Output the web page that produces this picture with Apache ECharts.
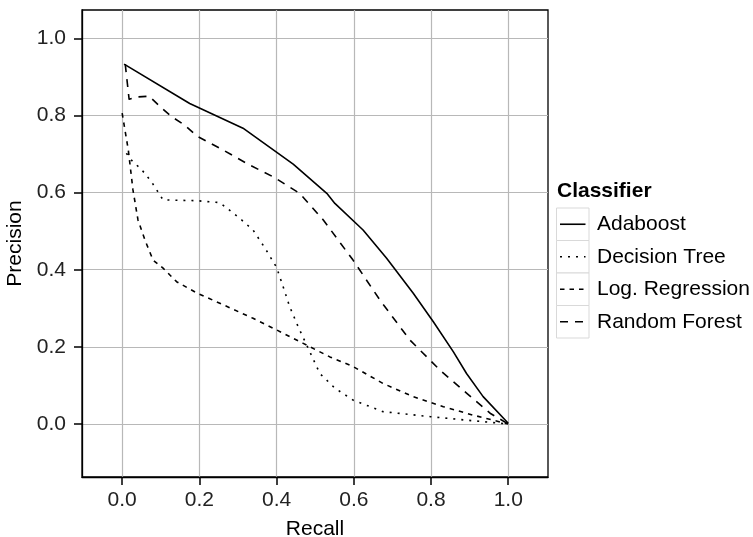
<!DOCTYPE html>
<html lang="en">
<head>
    <meta charset="UTF-8">
    <title>Precision-Recall</title>
    <style>
        html, body { margin: 0; padding: 0; background: #fff; }
        #main { width: 753px; height: 537px; }
    </style>
</head>
<body>
    <div id="main"></div>
</body>
<script type="text/javascript" src="https://cdn.jsdelivr.net/npm/echarts@6/dist/echarts.min.js"></script>
<script type="text/javascript">
    // values
    var classifiers = ['Adaboost', 'Decision Tree', 'Log. Regression', 'Random Forest'];
    var xTicks = [0, 0.2, 0.4, 0.6, 0.8, 1.0];
    var yTicks = [0, 0.2, 0.4, 0.6, 0.8, 1.0];

    var adaRecall    = [0.005, 0.175, 0.313, 0.443, 0.53, 0.551, 0.624, 0.685, 0.754, 0.806, 0.858, 0.892, 0.935, 1.0];
    var adaPrecision = [0.933, 0.831, 0.767, 0.674, 0.598, 0.572, 0.503, 0.43, 0.339, 0.265, 0.187, 0.131, 0.071, 0.002];

    var treeRecall    = [0.011, 0.024, 0.05, 0.076, 0.106, 0.193, 0.253, 0.305, 0.339, 0.37, 0.4, 0.417, 0.434, 0.456, 0.482, 0.512, 0.551, 0.598, 0.676, 0.799, 0.892, 1.0];
    var treePrecision = [0.702, 0.684, 0.66, 0.628, 0.581, 0.579, 0.574, 0.533, 0.503, 0.456, 0.406, 0.356, 0.304, 0.252, 0.196, 0.131, 0.093, 0.062, 0.032, 0.019, 0.01, 0.0];

    var logRecall    = [0.0, 0.016, 0.028, 0.041, 0.059, 0.08, 0.106, 0.141, 0.193, 0.262, 0.339, 0.4, 0.469, 0.538, 0.598, 0.676, 0.754, 0.832, 0.909, 1.0];
    var logPrecision = [0.806, 0.71, 0.607, 0.529, 0.477, 0.425, 0.404, 0.369, 0.34, 0.309, 0.274, 0.244, 0.209, 0.174, 0.149, 0.105, 0.071, 0.045, 0.023, 0.0];

    var rfRecall    = [0.008, 0.018, 0.04, 0.07, 0.098, 0.128, 0.162, 0.193, 0.262, 0.331, 0.391, 0.46, 0.521, 0.598, 0.668, 0.745, 0.823, 0.892, 0.953, 1.0];
    var rfPrecision = [0.933, 0.842, 0.848, 0.85, 0.823, 0.797, 0.775, 0.747, 0.71, 0.671, 0.641, 0.598, 0.529, 0.425, 0.321, 0.218, 0.14, 0.08, 0.028, 0.0];

    var dashes = ['solid', [2, 6], [4.5, 5], [8, 7]];

    function pairs(xs, ys) {
        var out = [];
        for (var i = 0; i < xs.length; i++) out.push([xs[i], ys[i]]);
        return out;
    }

    var seriesData = [
        pairs(adaRecall, adaPrecision),
        pairs(treeRecall, treePrecision),
        pairs(logRecall, logPrecision),
        pairs(rfRecall, rfPrecision)
    ];

    var font = "'Liberation Sans', Arial, Helvetica, sans-serif";
    var myChart = echarts.init(document.getElementById('main'), null, {renderer: 'canvas'});

    var series = [];
    for (var i = 0; i < classifiers.length; i++) {
        series.push({
            name: classifiers[i],
            type: 'line',
            symbol: 'none',
            silent: true,
            data: seriesData[i],
            lineStyle: {color: '#000', width: 1.6, type: dashes[i], cap: 'butt', join: 'round'},
            itemStyle: {color: '#000'}
        });
    }

    // legend keys: grey box, a short line in the series' dash, and the name
    var keyLeft = 556.5, keyTop = 208, keySize = 32.5;
    var legendParts = [];
    for (var i = 0; i < classifiers.length; i++) {
        var y0 = keyTop + i * keySize;
        legendParts.push({
            type: 'rect', silent: true,
            shape: {x: keyLeft, y: y0, width: keySize, height: keySize},
            style: {fill: '#fff', stroke: '#d9d9d9', lineWidth: 1}
        });
        legendParts.push({
            type: 'line', silent: true,
            shape: {x1: keyLeft + 3.5, y1: y0 + keySize / 2, x2: keyLeft + keySize - 3.5, y2: y0 + keySize / 2},
            style: {stroke: '#000', lineWidth: 1.6, lineDash: dashes[i] === 'solid' ? null : dashes[i], lineCap: 'butt'}
        });
        legendParts.push({
            type: 'text', silent: true,
            x: 597, y: y0 + keySize / 2,
            style: {text: classifiers[i], font: '21px ' + font, fill: '#000', verticalAlign: 'middle', align: 'left'}
        });
    }

    var option = {
        animation: false,
        backgroundColor: '#fff',
        textStyle: {fontFamily: font},
        title: {
            text: 'Classifier', left: 557, top: 181, padding: 0,
            textStyle: {fontFamily: font, fontSize: 21, fontWeight: 'bold', color: '#000'}
        },
        graphic: legendParts,
        grid: {
            left: 82, right: 205, top: 10, bottom: 60,
            outerBoundsMode: 'none', containLabel: false,
            show: true, borderColor: '#000', borderWidth: 1.3
        },
        xAxis: {
            type: 'value', min: -0.104, max: 1.103,
            name: 'Recall', nameLocation: 'middle', nameGap: 42,
            nameTextStyle: {fontFamily: font, fontSize: 21, color: '#000'},
            axisLine: {show: true, onZero: false, lineStyle: {color: '#000', width: 1.3}},
            axisTick: {show: true, length: 8, customValues: xTicks, lineStyle: {color: '#000', width: 1.5}},
            axisLabel: {customValues: xTicks, margin: 13, fontSize: 21, color: '#222', fontFamily: font,
                formatter: function (v) { return v.toFixed(1); }},
            splitLine: {show: true, lineStyle: {color: '#b8b8b8', width: 1.2}}
        },
        yAxis: {
            type: 'value', min: -0.1374, max: 1.0734,
            name: 'Precision', nameLocation: 'middle', nameGap: 56, nameRotate: 90,
            nameTextStyle: {fontFamily: font, fontSize: 21, color: '#000'},
            axisLine: {show: true, onZero: false, lineStyle: {color: '#000', width: 1.3}},
            axisTick: {show: true, length: 8, customValues: yTicks, lineStyle: {color: '#000', width: 1.5}},
            axisLabel: {customValues: yTicks, margin: 16, fontSize: 21, color: '#222', fontFamily: font,
                formatter: function (v) { return v.toFixed(1); }},
            splitLine: {show: true, lineStyle: {color: '#b8b8b8', width: 1.2}}
        },
        series: series
    };
    myChart.setOption(option);
</script>
</html>
